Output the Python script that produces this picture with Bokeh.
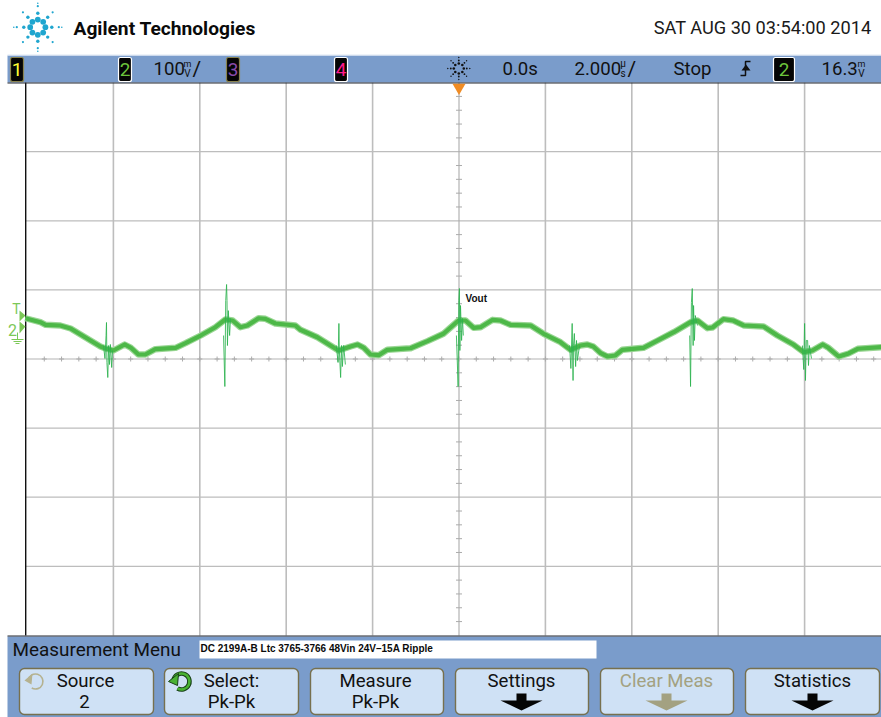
import math
from bokeh.embed import file_html
from bokeh.resources import INLINE
from bokeh.plotting import figure
from bokeh.models import Range1d
from bokeh.core.properties import value

# ---- data ----
TIME_US = [-10.04,-9.69,-9.57,-9.23,-8.99,-8.76,-8.53,-8.30,-8.18,-8.00,-7.74,-7.60,-7.42,-7.26,-7.03,-6.56,-6.33,-5.98,-5.64,-5.41,-5.24,-5.06,-4.90,-4.64,-4.48,-4.25,-3.79,-3.67,-3.28,-2.91,-2.79,-2.51,-2.35,-2.21,-2.05,-1.86,-1.66,-1.12,-0.73,-0.36,-0.01,0.15,0.34,0.50,0.78,0.96,1.19,1.66,1.96,2.35,2.58,2.81,2.97,3.11,3.28,3.44,3.62,3.78,4.27,4.60,4.97,5.36,5.52,5.75,5.87,6.12,6.35,6.59,7.05,7.37,7.74,7.98,8.18,8.42,8.55,8.79,9.02,9.23,9.78]
VOUT_MV = [59.0,53.3,49.5,48.5,44.1,35.5,26.8,18.1,15.2,12.3,21.0,16.6,6.5,6.5,14.2,16.2,22.9,34.0,46.0,57.2,55.7,46.0,48.5,59.0,58.2,51.4,48.5,42.3,31.5,17.1,12.3,18.1,21.0,16.6,6.5,5.5,13.3,15.6,25.8,36.5,55.7,55.7,45.1,46.0,56.7,55.7,49.5,48.5,36.5,24.3,13.3,19.5,21.0,18.1,8.4,3.6,5.1,13.3,16.2,26.8,38.8,53.3,55.7,44.6,45.6,57.6,55.7,48.5,47.0,34.0,21.0,9.8,12.3,21.0,16.2,3.6,8.0,14.8,17.1]

SPIKE_T = [
    [-8.23,-8.195,-8.17,-8.16,-8.15,-8.13,-8.11,-8.09,-8.07,-8.04,-8.02],
    [-5.45,-5.42,-5.40,-5.38,-5.37,-5.36,-5.34,-5.31,-5.29],
    [-2.84,-2.80,-2.78,-2.77,-2.74,-2.72,-2.70,-2.67,-2.63],
    [-0.06,-0.02,-0.005,0.01,0.02,0.035,0.06,0.08,0.10],
    [2.56,2.59,2.62,2.64,2.65,2.67,2.70,2.72,2.74,2.79],
    [5.34,5.36,5.38,5.40,5.42,5.43,5.45,5.47,5.52],
    [7.95,7.98,8.00,8.02,8.04,8.07,8.09,8.11,8.16],
]
SPIKE_MV = [
    [19.5,0.7,34,52.8,-5,-26.8,19.5,-8,21,-12.3,12.3],
    [34,-39.8,84.6,107.8,84.6,19.5,70,34,58.6],
    [19.5,-5,51.4,12.3,-26.8,19.5,-10.9,19.5,-8],
    [34,-39.8,84.6,102,12.3,77.4,26.8,58.6,34],
    [19.5,-13.7,51.4,-31.1,19.5,36.9,-10.9,26.8,-2.2,19.5],
    [34,-39.8,81.7,102,19.5,77.4,26.8,62.9,48.5],
    [19.5,-15.2,51.4,-31.1,26.8,26.8,-9.4,19.5,0.7],
]

GRID_T = [-8,-6,-4,-2,2,4,6,8]
GRID_MV = [-300,-200,-100,100,200,300]
LEFT_T, RIGHT_T = -10.03, 9.78
TOP_MV, BOTTOM_MV = 400, -400
MINOR_T = [round(-10+0.4*i,1) for i in range(1,50)]
MINOR_MV = [-380,-360,-340,-320,-280,-260,-240,-220,-180,-160,-140,-120,-80,-60,-40,-20,20,40,60,80,120,140,160,180,220,240,260,280,320,340,360,380]

BUTTON_TEXT = ["Source","Select:","Measure","Settings","Clear Meas","Statistics"]
BUTTON_SUB = ["2","Pk-Pk","Pk-Pk","","",""]
BUTTON_LEFT = [19,164,310,455,600,745]
BUTTON_RIGHT = [153,298,443,588,733,879]

CH_LABELS = ["1","2","3","4"]
CH_COLORS = ["#FFFF33","#6CC43C","#8A4BAA","#FF1A8C"]
CH_LEFT = [10,118,226,334]
CH_EDGE = ["#8a8450","#ffffff","#8a8450","#ffffff"]

BLUE = "#7A9CCB"
FACE = "#CFE1F5"
EDGE = "#77704E"
GREEN = "#4DB848"
SOFT = "#9AD694"
SPIKE = "#2DB34F"
GREY = "#BDBDBD"
SCOPE = "Roboto"
SANS = "Liberation Sans"
TXT = 18.6

p = figure(width=881, height=717, output_backend="svg", toolbar_location=None,
           x_range=Range1d(0, 881), y_range=Range1d(717, 0),
           min_border=0, outline_line_color=None)
p.axis.visible = False
p.grid.visible = False
p.background_fill_color = "#ffffff"
p.border_fill_color = "#ffffff"
p.styles = {"position": "absolute", "left": "0px", "top": "0px"}

# trace scales: 43.2 px per us around x=458.5, 0.691 px per mV around y=358.5
p.extra_x_ranges["t"] = Range1d((0-458.5)/43.2, (881-458.5)/43.2)
p.extra_y_ranges["mv"] = Range1d((358.5-717)/0.691, 358.5/0.691)


def label(x, y, s, size, color="#111111", font=SCOPE, align="left", style="normal"):
    p.text([x], [y], text=[s], text_font=value(font), text_font_size=f"{size}px",
           text_color=color, text_align=align, text_baseline="middle", text_font_style=style)


# ---- graticule ----
p.segment(GRID_T, [BOTTOM_MV]*len(GRID_T), GRID_T, [TOP_MV]*len(GRID_T), line_color=GREY,
          line_width=1.6, x_range_name="t", y_range_name="mv")
p.segment([LEFT_T]*len(GRID_MV), GRID_MV, [RIGHT_T]*len(GRID_MV), GRID_MV, line_color=GREY,
          line_width=1.3, x_range_name="t", y_range_name="mv")
p.segment([LEFT_T], [0], [RIGHT_T], [0], line_color="#B4B4B4", line_width=1.1, x_range_name="t", y_range_name="mv")
p.segment([0], [BOTTOM_MV], [0], [TOP_MV], line_color="#ABABAB", line_width=1.1, x_range_name="t", y_range_name="mv")
p.scatter(MINOR_T, [0]*len(MINOR_T), marker="cross", size=5, line_color="#ABABAB", line_width=1,
          x_range_name="t", y_range_name="mv")
p.scatter([0]*len(MINOR_MV), MINOR_MV, marker="dash", size=6, line_color="#ABABAB", line_width=1,
          x_range_name="t", y_range_name="mv")
p.segment([LEFT_T], [BOTTOM_MV], [LEFT_T], [TOP_MV], line_color="#111111", line_width=1.4,
          x_range_name="t", y_range_name="mv")

# ---- waveform ----
p.line(TIME_US, VOUT_MV, line_color=SOFT, line_width=6.4, line_join="round", x_range_name="t", y_range_name="mv")
p.line(TIME_US, VOUT_MV, line_color=GREEN, line_width=4.2, line_join="round", x_range_name="t", y_range_name="mv")
for st, sv in zip(SPIKE_T, SPIKE_MV):
    p.line(st, sv, line_color=SPIKE, line_width=1, line_alpha=0.85, x_range_name="t", y_range_name="mv")
label(465, 298, "Vout", 10, font=SANS, style="bold")

# ---- channel markers on the left ----
LIME = "#7CC857"
label(16, 308, "T", 14, color=LIME, align="center")
label(12, 329, "2", 16, color=LIME, align="center")
p.patches([[19, 25, 19], [19, 25, 19]], [[310, 315, 321], [321, 326, 333]], fill_color=LIME, line_color=None)
p.line([17, 17], [332, 339], line_color=LIME, line_width=1)
p.segment([11, 13, 15], [339, 341, 343], [23, 21, 19], [339, 341, 343], line_color=LIME, line_width=1)

# ---- top bar ----
p.quad(left=[7], right=[881], top=[55], bottom=[82], fill_color=BLUE, line_color=None)
p.segment([7], [54.5], [881], [54.5], line_color="#DCE6F3", line_width=1)
p.segment([7], [82.5], [881], [82.5], line_color="#22262E", line_width=1.2)
for lab, col, l, e in zip(CH_LABELS, CH_COLORS, CH_LEFT, CH_EDGE):
    p.quad(left=[l], right=[l+13], top=[57], bottom=[81], fill_color="#050505", line_color=e,
           line_width=1.2, border_radius=2)
    label(l+6.5, 69, lab, 19, color=col, align="center")
p.quad(left=[773], right=[794], top=[57], bottom=[81], fill_color="#050505", line_color="#ffffff",
       line_width=1.2, border_radius=2)
label(783.5, 69, "2", 19, color=CH_COLORS[1], align="center")

label(153, 68, "100", TXT)
label(187, 63, "m", 9, align="center")
label(187, 73, "V", 10, align="center")
label(192, 68, "/", 21)
label(502, 68, "0.0s", TXT)
label(574, 68, "2.000", TXT)
label(622.5, 63, "\u00b5", 10, align="center")
label(622.5, 73, "s", 10, align="center")
label(627, 68, "/", 21)
label(673, 68, "Stop", TXT)
label(821, 68, "16.3", TXT)
label(861, 63, "m", 9, align="center")
label(861, 73, "V", 10, align="center")

# trigger slope symbol
p.line([740, 745, 745, 750], [75, 75, 61, 61], line_color="#111111", line_width=1.5)
p.patch([741, 750, 745.5], [70, 70, 64], fill_color="#111111", line_color=None)

# run/stop sun icon
SUN_A = [0, 45, 90, 135, 180, 225, 270, 315]
for r, s in [(5, 2.6), (8, 1.8), (11, 1.4)]:
    p.scatter([458.3+r*math.cos(math.radians(a)) for a in SUN_A],
              [68+r*math.sin(math.radians(a)) for a in SUN_A],
              marker="circle", size=s, fill_color="#111111", line_color=None)

# trigger position
p.scatter([458.5], [87], marker="inverted_triangle", size=13, fill_color="#F08C24", line_color=None)

# ---- header ----
LOGO = "#20A6CF"
for ring, s in [(7.6, 5.8), (14, 3.4), (21, 2.2)]:
    p.scatter([37.3+ring*math.cos(math.radians(a)) for a in SUN_A],
              [26.7+ring*math.sin(math.radians(a)) for a in SUN_A],
              marker="circle", size=s, fill_color=LOGO, line_color=None)
p.scatter([37.3+x for x in (24, -24, 0, 0)], [26.7+y for y in (0, 0, 24, -24)],
          marker="circle", size=1.6, fill_color=LOGO, line_color=None)
label(73, 28, "Agilent Technologies", 19.2, color="#0A0A0A", style="bold")
label(871, 27, "SAT AUG 30 03:54:00 2014", 18.2, align="right", color="#1A1A1A")

# ---- bottom menu ----
p.quad(left=[7], right=[881], top=[636], bottom=[717], fill_color=BLUE, line_color=None)
p.segment([7], [635.5], [881], [635.5], line_color="#22262E", line_width=1.2)
label(12, 649, "Measurement Menu", 18.9, color="#111111")
p.quad(left=[199], right=[596], top=[640], bottom=[658], fill_color="#ffffff", line_color=None)
label(200, 648, "DC 2199A-B Ltc 3765-3766 48Vin 24V\u201315A Ripple", 10, font=SANS, style="bold", color="#0A0A0A")

p.quad(left=BUTTON_LEFT, right=BUTTON_RIGHT, top=[668]*6, bottom=[714]*6, fill_color=FACE,
       line_color=EDGE, line_width=1.4, border_radius=5)
CENTER_X = [85, 231, 375, 521, 666, 812]
SUB_X = [84, 231, 375, 521, 666, 812]
for i, (t, s) in enumerate(zip(BUTTON_TEXT, BUTTON_SUB)):
    col = "#A3A181" if t == "Clear Meas" else "#111111"
    label(CENTER_X[i], 680, t, TXT, color=col, align="center")
    if s:
        label(SUB_X[i], 701, s, TXT, color=col, align="center")
for cx, col in [(521, "#050505"), (666, "#A3A181"), (812, "#050505")]:
    p.patch([cx-5, cx+5, cx+5, cx+21, cx, cx-21, cx-5], [693, 693, 700, 700, 710, 700, 700],
            fill_color=col, line_color=None)

# softkey rotate icons
p.arc([35], [681], radius=7.5, start_angle=math.radians(-120), end_angle=math.radians(170),
      line_color="#B5B290", line_width=1.6)
p.patch([24, 32, 31], [680, 673, 684], fill_color="#B5B290", line_color=None)
p.arc([181], [681], radius=8, start_angle=math.radians(-120), end_angle=math.radians(170),
      line_color="#173F17", line_width=4.6)
p.arc([181], [681], radius=8, start_angle=math.radians(-120), end_angle=math.radians(170),
      line_color="#49B233", line_width=2.6)
p.patch([168, 178, 177], [681, 673, 685], fill_color="#49B233", line_color="#173F17", line_width=1)

open("out.html", "w").write(file_html(p, INLINE))
